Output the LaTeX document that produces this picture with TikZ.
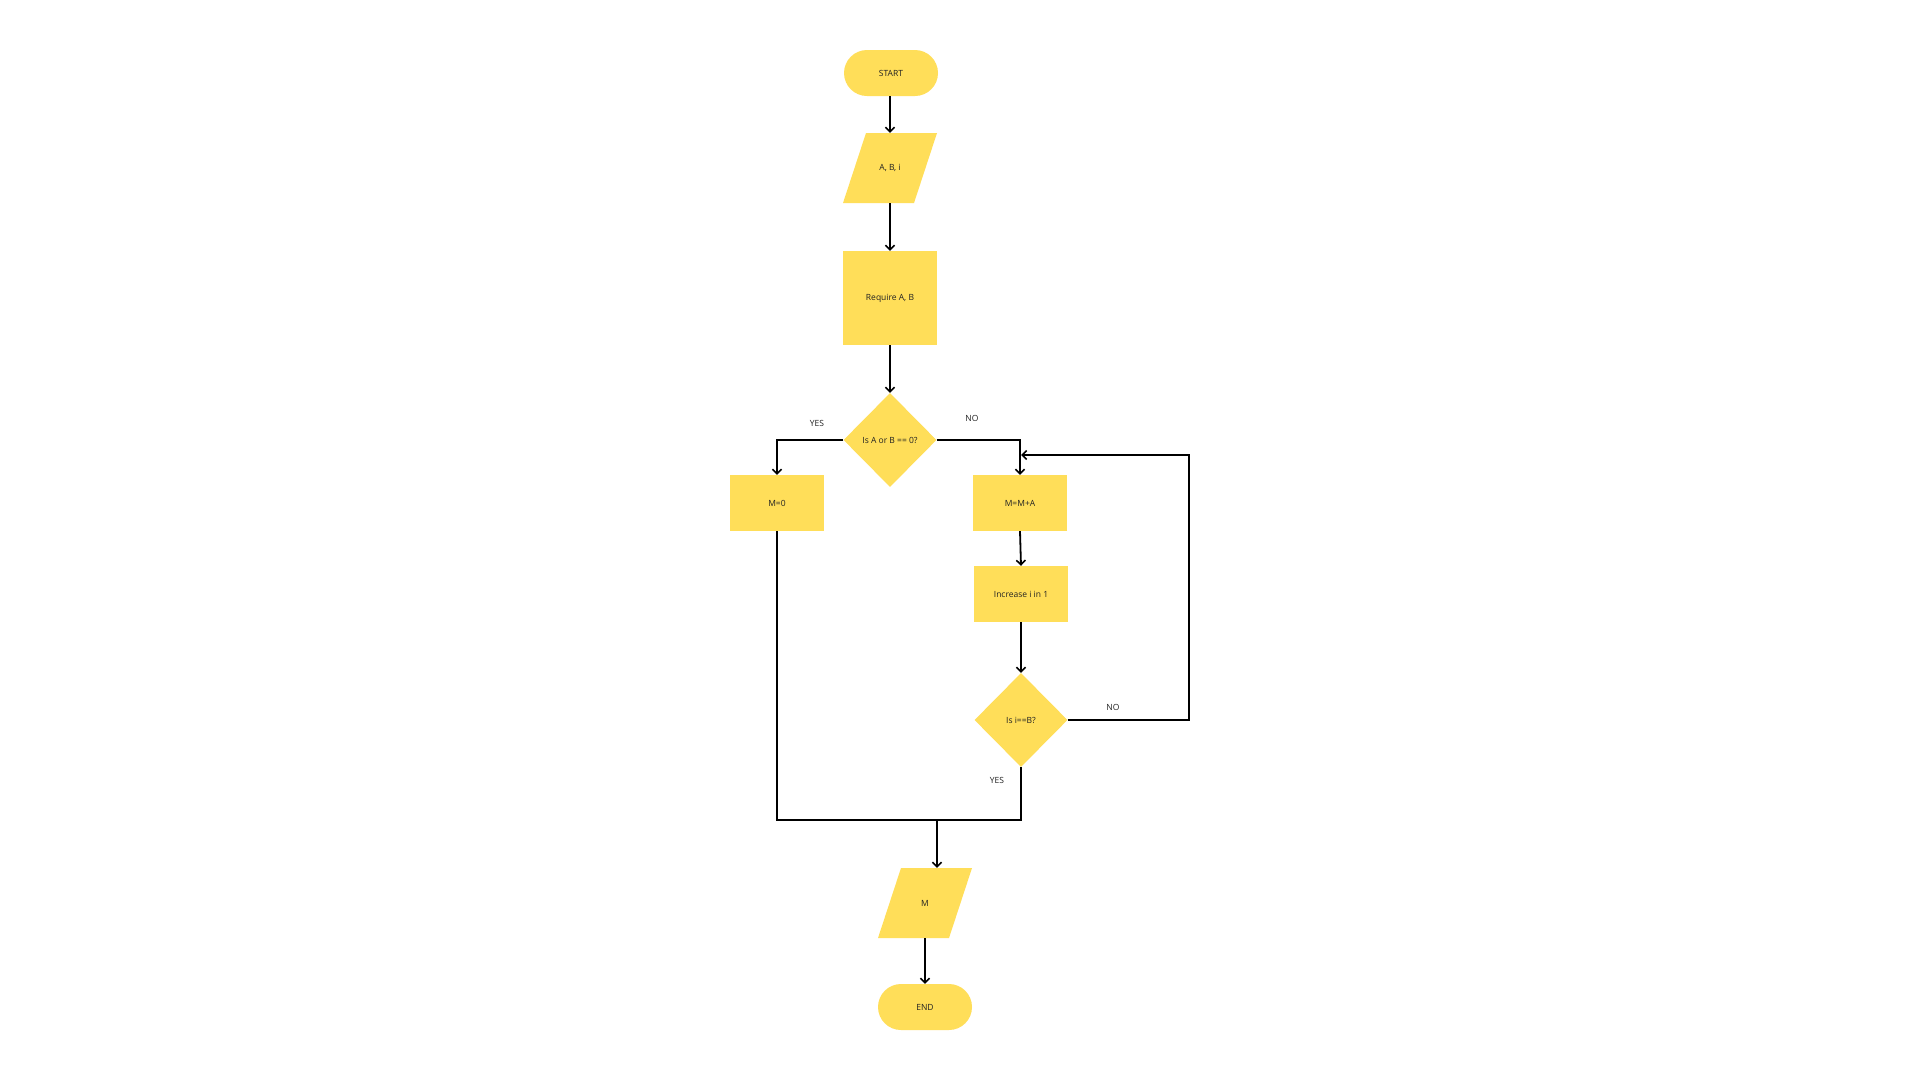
\documentclass[tikz,border=0pt]{standalone}
\usepackage{fontspec}
\setmainfont{Open Sans}
\usetikzlibrary{shapes.geometric,shapes.misc,arrows.meta}
\definecolor{fcyellow}{HTML}{FFDE59}
\definecolor{fctext}{HTML}{222222}
\tikzset{
  base/.style={fill=fcyellow, draw=none, text=fctext, font=\fontsize{8.5}{10}\selectfont, inner sep=0pt, align=center},
  term/.style={base, rounded rectangle, minimum width=94pt, minimum height=46pt},
  io/.style={text=fctext, font=\fontsize{8.5}{10}\selectfont, inner sep=0pt, align=center,
    rectangle, minimum width=94pt, minimum height=70pt,
    path picture={\fill[fcyellow] ([xshift=23pt]path picture bounding box.north west)
      -- (path picture bounding box.north east)
      -- ([xshift=-23pt]path picture bounding box.south east)
      -- (path picture bounding box.south west) -- cycle;}},
  procbox/.style={base, rectangle, minimum width=94pt, minimum height=56pt},
  decision/.style={base, diamond, minimum width=93pt, minimum height=94pt},
  conn/.style={line width=1.8pt, draw=black},
  arr/.style={conn, -{Straight Barb[length=4.5pt,width=9pt,line width=1.6pt]}},
  lbl/.style={text=fctext, font=\fontsize{8.5}{10}\selectfont, inner sep=0pt}
}
\begin{document}
\begin{tikzpicture}[x=1pt,y=-1pt]
\useasboundingbox[fill=white] (0,0) rectangle (1920,1080);
\node[term] (start) at (891,73) {START};
\node[io] (p1) at (890,168) {A, B, i};
\node[procbox, minimum height=94pt] (req) at (890,298) {Require A, B};
\node[decision] (d1) at (890,440) {Is A or B == 0?};
\node[procbox] (m0) at (777,503) {M=0};
\node[procbox] (mma) at (1020,503) {M=M+A};
\node[procbox] (inc) at (1021,594) {Increase i in 1};
\node[decision] (d2) at (1021,720) {Is i==B?};
\node[io] (pm) at (925,903) {M};
\node[term] (endn) at (925,1007) {END};

\coordinate (lr) at (1189,720);
\coordinate (lt) at (1189,455);
\coordinate (lend) at (1021,455);
\coordinate (mj) at (937,820);

\draw[arr] (start.south -| p1.north) -- (p1.north);
\draw[arr] (p1.south) -- (req.north);
\draw[arr] (req.south) -- (d1.north);
\draw[arr] (d1.west) -| (m0.north);
\draw[arr] (d1.east) -| (mma.north);
\draw[arr] (mma.south) -- (inc.north);
\draw[arr] (inc.south) -- (d2.north);
\draw[arr] (d2.east) -- (lr) -- (lt) -- (lend);
\draw[conn] (m0.south) |- (mj);
\draw[conn] (d2.south) |- (mj);
\draw[arr] (mj) -- (mj |- pm.north);
\draw[arr] (pm.south) -- (endn.north);

\node[lbl] (yes1) at (817,423) {YES};
\node[lbl] (no1) at (972,418) {NO};
\node[lbl] (no2) at (1113,707) {NO};
\node[lbl] (yes2) at (997,780) {YES};
\end{tikzpicture}
\end{document}
